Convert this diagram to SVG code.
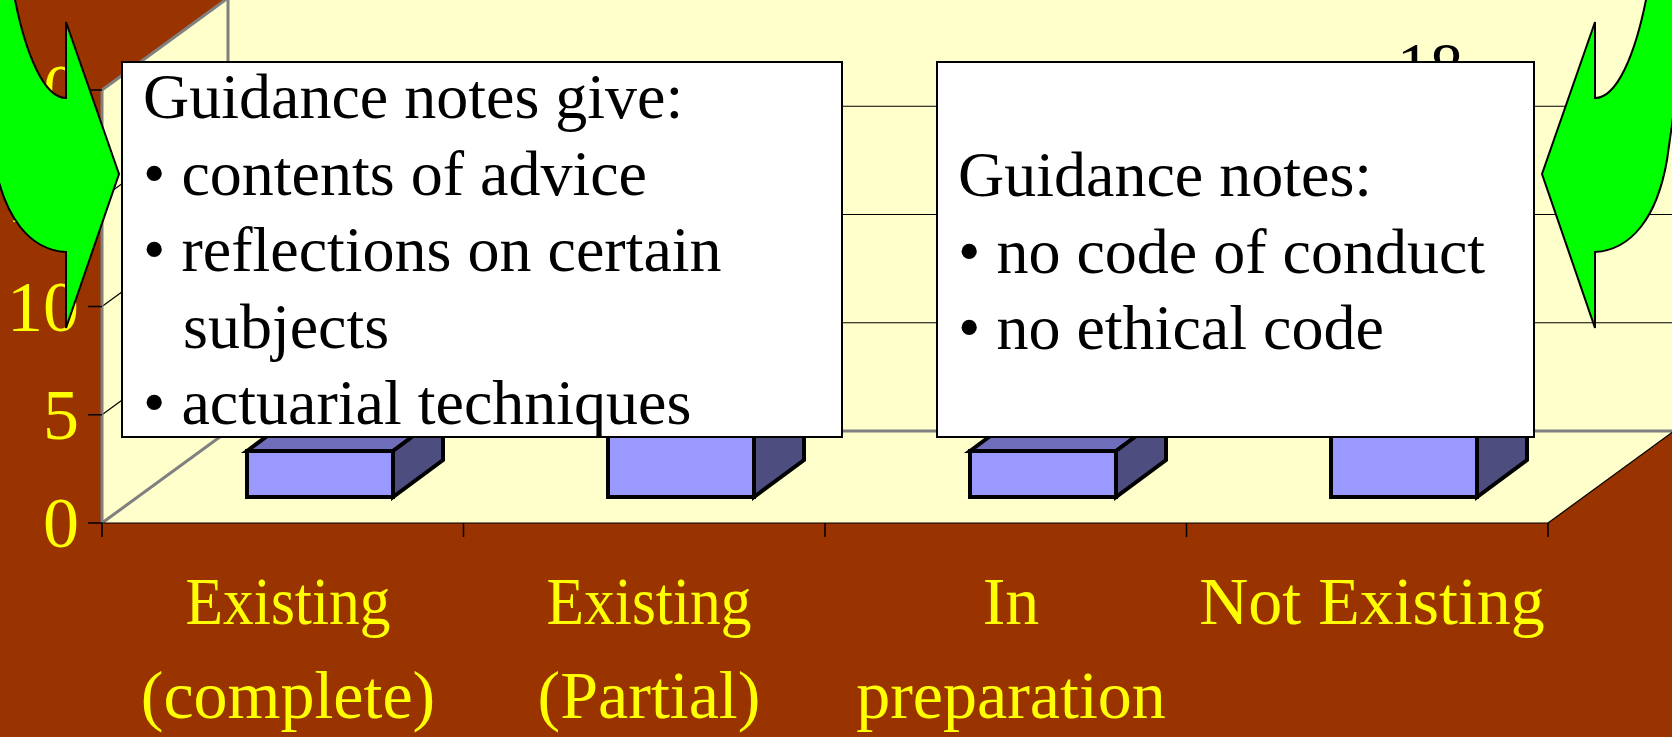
<svg xmlns="http://www.w3.org/2000/svg" width="1672" height="737" viewBox="0 0 1672 737">
<style>
.wall{fill:#FFFFCC;stroke:none}
.edge{stroke:#808080;stroke-width:3;fill:none}
.grid{stroke:#000;stroke-width:1.2;fill:none}
.tick{stroke:#000;stroke-width:1.5}
.ylab{font-family:"Liberation Serif","Times New Roman",serif;font-size:72px;fill:#FFFF00;text-anchor:end}
.xlab{font-family:"Liberation Serif","Times New Roman",serif;font-size:68px;fill:#FFFF00;text-anchor:middle}
.front{fill:#9999FF;stroke:#000;stroke-width:4;stroke-linejoin:miter}
.top{fill:#6E6EBA;stroke:#000;stroke-width:4}
.side{fill:#4D4D80;stroke:#000;stroke-width:4}
.box{fill:#FFFFFF;stroke:#000;stroke-width:2}
.btxt{font-family:"Liberation Serif","Times New Roman",serif;font-size:64px;fill:#000}
.arrow{fill:#00FF00;stroke:#000;stroke-width:2;stroke-linejoin:miter}
</style>
<defs>
<path id="arr" d="M 13.1,-10 A 66 268 0 0 0 66 98 L 66,22 L 119,174 L 66,328 L 66,252 C 30,250 4,218 -6,160 L -30,-10 Z"/>
</defs>
<rect width="1672" height="737" fill="#993300"/>
<g id="chart">
<polygon class="wall" points="102,90 228,-2 1690,-2 1690,431 1674,431 1548,523 102,523"/>
<g id="gridlines">
<polyline class="grid" points="102,414.75 228,322.75 1690,322.75"/>
<polyline class="grid" points="102,306.5 228,214.5 1690,214.5"/>
<polyline class="grid" points="102,198.25 228,106.25 1690,106.25"/>
</g>
<g id="walledges">
<line class="edge" x1="102" y1="90" x2="102" y2="523"/>
<line class="edge" x1="102" y1="90" x2="228" y2="-2"/>
<line class="edge" x1="228" y1="-2" x2="228" y2="431"/>
<line class="edge" x1="102" y1="523" x2="228" y2="431"/>
<line class="edge" x1="228" y1="431" x2="1690" y2="431"/>
</g>
<line class="grid" x1="102" y1="523" x2="1548" y2="523"/>
<line class="grid" x1="1548" y1="523" x2="1674" y2="431"/>
<g id="ticks">
<line class="tick" x1="88" y1="523" x2="102" y2="523"/>
<line class="tick" x1="88" y1="414.75" x2="102" y2="414.75"/>
<line class="tick" x1="88" y1="306.5" x2="102" y2="306.5"/>
<line class="tick" x1="88" y1="198.25" x2="102" y2="198.25"/>
<line class="tick" x1="88" y1="90" x2="102" y2="90"/>
<line class="tick" x1="102" y1="523" x2="102" y2="537"/>
<line class="tick" x1="463.5" y1="523" x2="463.5" y2="537"/>
<line class="tick" x1="825" y1="523" x2="825" y2="537"/>
<line class="tick" x1="1186.5" y1="523" x2="1186.5" y2="537"/>
<line class="tick" x1="1548" y1="523" x2="1548" y2="537"/>
</g>
<g id="ylabels">
<text class="ylab" x="79" y="547">0</text>
<text class="ylab" x="79" y="439">5</text>
<text class="ylab" x="79" y="330.5">10</text>
<text class="ylab" x="79" y="222">15</text>
<text class="ylab" x="79" y="114">20</text>
</g>
<g id="bar1">
<polygon class="top" points="247,451 297,414 443,414 393,451"/>
<polygon class="side" points="393,451 443,414 443,460 393,497"/>
<rect class="front" x="247" y="451" width="146" height="46"/>
</g>
<g id="bar2">
<polygon class="top" points="608,150 658,113 804,113 754,150"/>
<polygon class="side" points="754,150 804,113 804,460 754,497"/>
<rect class="front" x="608" y="150" width="146" height="347"/>
</g>
<g id="bar3">
<polygon class="top" points="970,451 1020,414 1166,414 1116,451"/>
<polygon class="side" points="1116,451 1166,414 1166,460 1116,497"/>
<rect class="front" x="970" y="451" width="146" height="46"/>
</g>
<g id="bar4">
<polygon class="top" points="1331,110 1381,73 1527,73 1477,110"/>
<polygon class="side" points="1477,110 1527,73 1527,460 1477,497"/>
<rect class="front" x="1331" y="110" width="146" height="387"/>
</g>
<text x="1430" y="88" font-family="Liberation Serif, Times New Roman, serif" font-size="66" fill="#000" text-anchor="middle">18</text>
<g id="xlabels">
<text class="xlab" x="288" y="624" textLength="205" lengthAdjust="spacingAndGlyphs">Existing</text>
<text class="xlab" x="288" y="718">(complete)</text>
<text class="xlab" x="649" y="624" textLength="205" lengthAdjust="spacingAndGlyphs">Existing</text>
<text class="xlab" x="649" y="718">(Partial)</text>
<text class="xlab" x="1011" y="624">In</text>
<text class="xlab" x="1011" y="718">preparation</text>
<text class="xlab" x="1372" y="624">Not Existing</text>
</g>
</g>
<g id="note1">
<rect class="box" x="122" y="62" width="720" height="375"/>
<text class="btxt" x="143" y="118">Guidance notes give:</text>
<text class="btxt" x="143" y="194.5">• contents of advice</text>
<text class="btxt" x="143" y="271">• reflections on certain</text>
<text class="btxt" x="183" y="347.5">subjects</text>
<text class="btxt" x="143" y="424">• actuarial techniques</text>
</g>
<g id="note2">
<rect class="box" x="937" y="62" width="597" height="375"/>
<text class="btxt" x="958" y="196">Guidance notes:</text>
<text class="btxt" x="958" y="272.5">• no code of conduct</text>
<text class="btxt" x="958" y="349">• no ethical code</text>
</g>
<g id="arrowLeft">
<use href="#arr" class="arrow"/>
</g>
<g id="arrowRight">
<use href="#arr" class="arrow" transform="translate(1661,0) scale(-1,1)"/>
</g>
</svg>
